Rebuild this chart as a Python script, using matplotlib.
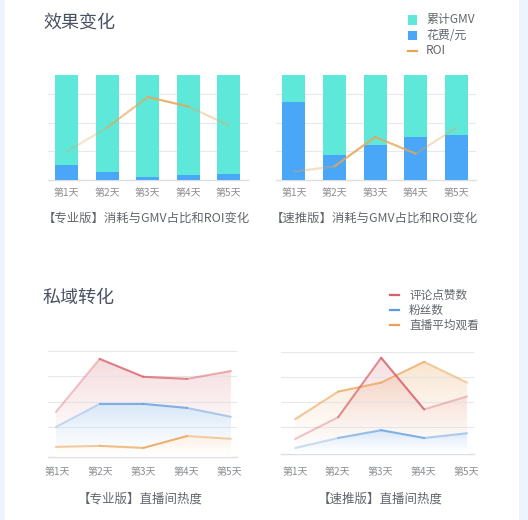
import numpy as np
import matplotlib
matplotlib.use("Agg")
import matplotlib.pyplot as plt
from matplotlib.patches import Polygon, Rectangle
from matplotlib.collections import LineCollection
from matplotlib.lines import Line2D
from matplotlib.colors import to_rgb

plt.rcParams["font.family"] = ["Noto Sans CJK SC", "DejaVu Sans"]

days = ["第1天", "第2天", "第3天", "第4天", "第5天"]

# top: share of spend in GMV (stacked to 100%) and ROI
pro_spend = [0.14, 0.08, 0.03, 0.05, 0.06]
pro_roi = [0.27, 0.50, 0.79, 0.70, 0.52]
fast_spend = [0.74, 0.24, 0.33, 0.41, 0.43]
fast_roi = [0.08, 0.13, 0.41, 0.25, 0.50]

# bottom: live room heat
pro_likes = [1.59, 3.69, 2.98, 2.90, 3.21]
pro_fans = [1.00, 1.91, 1.91, 1.75, 1.40]
pro_views = [0.21, 0.25, 0.17, 0.64, 0.53]
fast_likes = [0.53, 1.40, 3.77, 1.71, 2.23]
fast_fans = [0.17, 0.57, 0.88, 0.57, 0.76]
fast_views = [1.32, 2.42, 2.78, 3.61, 2.78]

TEAL = "#5ee8d9"
BLUE = "#4aa6f6"
ROI_C = "#e8a55a"
RED = "#d9606a"
FAN_C = "#5b9be0"
VIEW_C = "#eba457"
GRID = "#e6e8ec"
TXT = "#8a8d92"

W, H = 528, 520
fig = plt.figure(figsize=(W / 100, H / 100), dpi=100)
fig.patch.set_facecolor("white")

# light side strips
fig.patches.append(Rectangle((0, 0), 5 / W, 1, transform=fig.transFigure,
                             facecolor="#eef4fc", edgecolor="none"))
fig.patches.append(Rectangle((519 / W, 0), 9 / W, 1, transform=fig.transFigure,
                             facecolor="#eef4fc", edgecolor="none"))


def px_axes(x0, x1, ytop, ybot):
    return fig.add_axes([x0 / W, (H - ybot) / H, (x1 - x0) / W, (ybot - ytop) / H])


def faded_line(ax, x, y, color, alphas, lw=1.6, z=5):
    segs = [[(x[i], y[i]), (x[i + 1], y[i + 1])] for i in range(len(x) - 1)]
    rgb = to_rgb(color)
    cols = [(*rgb, a) for a in alphas]
    ax.add_collection(LineCollection(segs, colors=cols, linewidths=lw, zorder=z,
                                     capstyle="round", joinstyle="round"))


def grad_fill(ax, x, y, color, base, a_top, z, solid=False):
    verts = [(x[0], base)] + list(zip(x, y)) + [(x[-1], base)]
    poly = Polygon(verts, closed=True, edgecolor="none",
                   facecolor="white" if solid else "none", zorder=z)
    ax.add_patch(poly)
    grad = np.zeros((120, 1, 4))
    grad[:, :, :3] = to_rgb(color)
    grad[:, 0, 3] = np.linspace(0, a_top, 120) ** 1.3
    im = ax.imshow(grad, aspect="auto", origin="lower", zorder=z,
                   extent=[x[0], x[-1], base, max(y)], interpolation="bilinear")
    im.set_clip_path(poly)


def style_axes(ax):
    for s in ["top", "right", "left"]:
        ax.spines[s].set_visible(False)
    ax.spines["bottom"].set_color("#dcdfe3")
    ax.spines["bottom"].set_linewidth(1.0)
    ax.set_yticks([])
    ax.set_xticks([])
    ax.patch.set_alpha(0)


# ---------------- top bars ----------------
def bar_panel(ax, spend, roi, roi_alpha, xlim):
    x = np.arange(len(days))
    for g in [0.276, 0.543, 0.82]:
        ax.axhline(g, color=GRID, lw=0.8, zorder=0)
    ax.bar(x, [1.0] * len(x), width=0.57, color=TEAL, zorder=2)
    ax.bar(x, spend, width=0.57, color=BLUE, zorder=3)
    faded_line(ax, x, roi, ROI_C, roi_alpha, lw=1.6)
    ax.set_xlim(*xlim)
    ax.set_ylim(0, 1.0)
    style_axes(ax)


ax1 = px_axes(48, 248, 75, 180)
bar_panel(ax1, pro_spend, pro_roi, [0.3, 0.65, 0.85, 0.4], (-0.46, 4.47))
ax2 = px_axes(276, 476, 75, 180)
bar_panel(ax2, fast_spend, fast_roi, [0.35, 0.85, 0.8, 0.35], (-0.44, 4.48))

for cx0, ax in [(66.5, ax1), (294, ax2)]:
    for i, d in enumerate(days):
        fig.text((cx0 + i * 40.6) / W, 1 - 193 / H, d, ha="center", va="center",
                 fontsize=7.2, color=TXT)

fig.text(43 / W, 1 - 23 / H, "效果变化", ha="left", va="center", fontsize=13,
         color="#4a5262")
fig.text(146 / W, 1 - 218 / H, "【专业版】消耗与GMV占比和ROI变化", ha="center",
         va="center", fontsize=8.9, color="#62666c")
fig.text(374 / W, 1 - 218 / H, "【速推版】消耗与GMV占比和ROI变化", ha="center",
         va="center", fontsize=8.9, color="#62666c")

# top legend
for i, (lab, c, kind) in enumerate([("累计GMV", TEAL, "box"), ("花费/元", BLUE, "box"),
                                    ("ROI", ROI_C, "line")]):
    yc = 20 + i * 15.5
    if kind == "box":
        fig.patches.append(Rectangle((407.5 / W, 1 - (yc + 4.5) / H), 9 / W, 9 / H,
                                     transform=fig.transFigure, facecolor=c,
                                     edgecolor="none"))
    else:
        fig.lines.append(Line2D([407.5 / W, 416.5 / W], [1 - yc / H, 1 - yc / H],
                                transform=fig.transFigure, color=c, lw=1.6))
    fig.text(426 / W, 1 - yc / H, lab, ha="left", va="center", fontsize=8.6,
             color="#62666c")


# ---------------- bottom lines ----------------
def heat_panel(ax, series, xlim, ybot):
    x = np.arange(len(days))
    for g in [1, 2, 3, 4]:
        ax.axhline(g, color="#dfe2e6", lw=0.8, zorder=7, alpha=0.8)
    z = 1
    for vals, col, a_top, alphas, solid in series:
        grad_fill(ax, x, vals, col, ybot, a_top, z, solid)
        z += 1
    for vals, col, a_top, alphas, solid in series:
        faded_line(ax, x, vals, col, alphas, lw=1.5, z=8)
    ax.set_xlim(*xlim)
    ax.set_ylim(ybot, 4.1)
    style_axes(ax)


ax3 = px_axes(48, 237, 348.5, 457)
heat_panel(ax3, [
    (pro_likes, RED, 0.32, [0.35, 0.8, 0.75, 0.5], False),
    (pro_fans, FAN_C, 0.34, [0.3, 0.75, 0.75, 0.45], True),
    (pro_views, VIEW_C, 0.25, [0.55, 0.7, 0.85, 0.5], True),
], (-0.18, 4.14), -0.19)

ax4 = px_axes(281, 474, 349.5, 454)
heat_panel(ax4, [
    (fast_views, VIEW_C, 0.38, [0.6, 0.75, 0.7, 0.5], False),
    (fast_likes, RED, 0.3, [0.35, 0.7, 0.85, 0.35], False),
    (fast_fans, FAN_C, 0.34, [0.3, 0.6, 0.75, 0.45], True),
], (-0.33, 4.16), -0.07)

for cx0, step, ax in [(57, 43.2, ax3), (295, 42.8, ax4)]:
    for i, d in enumerate(days):
        fig.text((cx0 + i * step) / W, 1 - 472 / H, d, ha="center", va="center",
                 fontsize=7.2, color=TXT)

fig.text(43 / W, 1 - 298 / H, "私域转化", ha="left", va="center", fontsize=13,
         color="#4a5262")
fig.text(140 / W, 1 - 499 / H, "【专业版】直播间热度", ha="center", va="center",
         fontsize=9, color="#62666c")
fig.text(380 / W, 1 - 499 / H, "【速推版】直播间热度", ha="center", va="center",
         fontsize=9, color="#62666c")

# bottom legend
for i, (lab, c) in enumerate([("评论点赞数", RED), ("粉丝数", FAN_C),
                              ("直播平均观看", VIEW_C)]):
    yc = 295 + i * 15
    fig.lines.append(Line2D([390 / W, 399 / W], [1 - yc / H, 1 - yc / H],
                            transform=fig.transFigure, color=c, lw=1.6))
    fig.text(409 / W, 1 - yc / H, lab, ha="left", va="center", fontsize=8.4,
             color="#62666c")

fig.savefig("out.png", dpi=100)
